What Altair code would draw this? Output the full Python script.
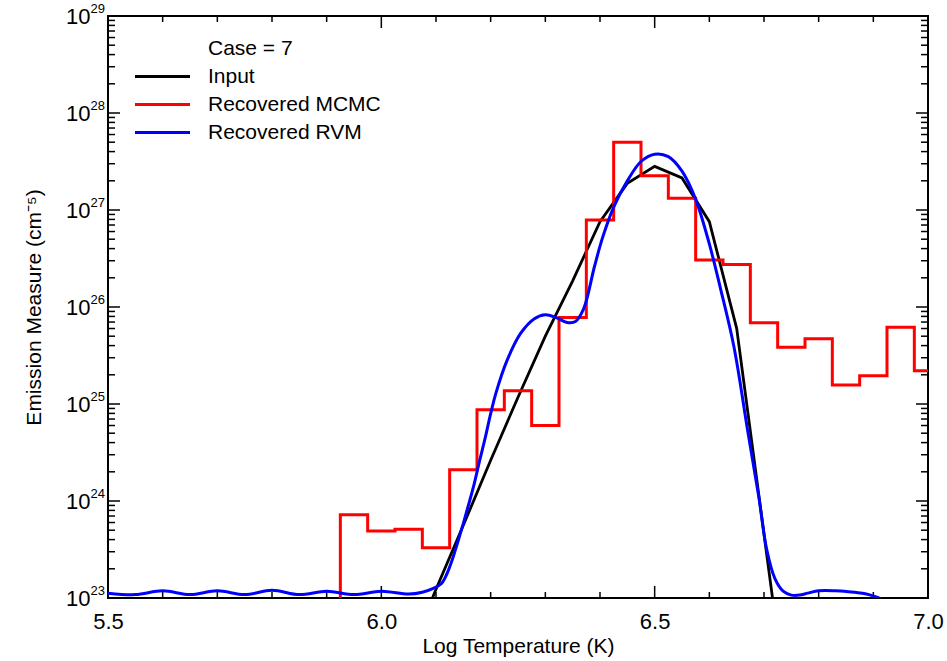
import altair as alt
import pandas as pd

# ---------------- data ----------------
SERIES = ["Case = 7", "Input", "Recovered MCMC", "Recovered RVM"]
SERIES_COLORS = ["transparent", "#000000", "#ff0000", "#0000ff"]

# Input DEM (log T, log EM)
INPUT_LOGT = [6.05, 6.10, 6.15, 6.20, 6.25, 6.30, 6.35, 6.40, 6.45, 6.50,
              6.55, 6.60, 6.65, 6.70, 6.75]
INPUT_LOGEM = [22.40, 23.09, 23.75, 24.42, 25.07, 25.70, 26.27, 26.88, 27.275, 27.45,
               27.33, 26.88, 25.78, 23.66, 21.54]

# Recovered MCMC histogram (bin centres, EM); first bin is below the plotted range
MCMC_BIN_WIDTH = 0.05
MCMC_CENTERS = [5.90, 5.95, 6.00, 6.05, 6.10, 6.15, 6.20, 6.25, 6.30, 6.35, 6.40,
                6.45, 6.50, 6.55, 6.60, 6.65, 6.70, 6.75, 6.80, 6.85, 6.90,
                6.95, 7.00]
MCMC_EM = [1e21, 7.2e23, 4.9e23, 5.1e23, 3.3e23, 2.1e24, 8.7e24, 1.37e25, 6.0e24, 7.8e25, 7.9e26,
           5.0e27, 2.26e27, 1.32e27, 3.05e26, 2.75e26, 6.9e25, 3.85e25, 4.7e25, 1.57e25, 1.95e25,
           6.2e25, 2.2e25]

# Recovered RVM (log T, log EM)
RVM_LOGT = [5.50, 5.55, 5.60, 5.65, 5.70, 5.75, 5.80, 5.85, 5.90, 5.95, 6.00, 6.05,
            6.075, 6.095, 6.11, 6.12, 6.13, 6.14, 6.15, 6.16, 6.17, 6.18, 6.19, 6.20,
            6.21, 6.23, 6.255, 6.28, 6.30, 6.32, 6.34, 6.355, 6.37, 6.39, 6.405, 6.425,
            6.45, 6.475, 6.50, 6.525, 6.55, 6.575, 6.60, 6.62, 6.645, 6.67, 6.69, 6.705,
            6.72, 6.735, 6.75, 6.765, 6.78, 6.80, 6.83, 6.855, 6.88, 6.895, 6.91, 6.925]
RVM_LOGEM = [23.05, 23.035, 23.075, 23.035, 23.075, 23.035, 23.08, 23.035, 23.07, 23.035, 23.07, 23.04,
             23.06, 23.10, 23.15, 23.25, 23.40, 23.58, 23.77, 23.97, 24.18, 24.42, 24.65, 24.90,
             25.12, 25.45, 25.73, 25.88, 25.92, 25.89, 25.84, 25.85, 25.98, 26.42, 26.72, 27.03,
             27.30, 27.50, 27.575, 27.55, 27.40, 27.11, 26.65, 26.20, 25.59, 24.73, 24.06, 23.50,
             23.20, 23.07, 23.03, 23.03, 23.05, 23.075, 23.075, 23.065, 23.05, 23.03, 23.00, 22.97]

# axis ticks / labels
X_DOMAIN = [5.5, 7.0]
Y_DOMAIN = [1e23, 1e29]
X_MAJOR = [5.5, 6.0, 6.5, 7.0]
X_MINOR = [5.6, 5.7, 5.8, 5.9, 6.1, 6.2, 6.3, 6.4, 6.6, 6.7, 6.8, 6.9]
Y_EXPONENTS = [23, 24, 25, 26, 27, 28, 29]
Y_EXP_LABELS = ["23", "24", "25", "26", "27", "28", "29"]
Y_MINOR_MULT = [2, 3, 4, 5, 6, 7, 8, 9]

# ---------------- build tables ----------------
rows = []
for i, (t, e) in enumerate(zip(INPUT_LOGT, INPUT_LOGEM)):
    rows.append({"series": "Input", "t": t, "em": 10 ** e, "order": i})
k = 0
for c, v in zip(MCMC_CENTERS, MCMC_EM):
    for edge in (c - MCMC_BIN_WIDTH / 2, c + MCMC_BIN_WIDTH / 2):
        rows.append({"series": "Recovered MCMC", "t": round(edge, 4), "em": v, "order": k})
        k += 1
for i, (t, e) in enumerate(zip(RVM_LOGT, RVM_LOGEM)):
    rows.append({"series": "Recovered RVM", "t": t, "em": 10 ** e, "order": i})
df = pd.DataFrame(rows)

y_major_vals = [10.0 ** e for e in Y_EXPONENTS]
y_minor_vals = [m * 10.0 ** e for e in Y_EXPONENTS[:-1] for m in Y_MINOR_MULT]
df_xmaj = pd.DataFrame({"t": X_MAJOR})
df_xmin = pd.DataFrame({"t": X_MINOR})
df_ymaj = pd.DataFrame({"em": y_major_vals})
df_ymin = pd.DataFrame({"em": y_minor_vals})
df_yexp = pd.DataFrame({"em": y_major_vals, "lab": Y_EXP_LABELS})

W, H = 820, 582
FONT = "Liberation Sans"
FS = 21
FS_TICK = 22

x_enc = alt.X(
    "t:Q",
    scale=alt.Scale(domain=X_DOMAIN, nice=False, zero=False),
    axis=alt.Axis(values=X_MAJOR, format=".1f", ticks=False, tickSize=0, domain=False, grid=False,
                  labelFontSize=FS_TICK, labelPadding=13, labelFlush=False, labelOverlap=False,
                  labelBaseline="top", labelColor="black",
                  title="Log Temperature (K)", titleFontSize=FS, titleFontWeight="normal",
                  titleColor="black", titleX=W / 2, titleY=54, titleAlign="center",
                  titleBaseline="alphabetic"),
)
y_enc = alt.Y(
    "em:Q",
    scale=alt.Scale(type="log", domain=Y_DOMAIN, nice=False),
    axis=alt.Axis(values=y_major_vals, labelExpr="'10'", ticks=False, tickSize=0, domain=False,
                  grid=False, labelFontSize=FS_TICK, labelPadding=18, labelAlign="right",
                  labelBaseline="middle", labelOverlap=False, labelFlush=False, labelColor="black",
                  title="Emission Measure (cm⁻⁵)", titleFontSize=FS, titleFontWeight="normal",
                  titleColor="black", titleAngle=-90, titleX=-74, titleY=H / 2,
                  titleAlign="center", titleBaseline="middle"),
)
color_enc = alt.Color(
    "series:N",
    scale=alt.Scale(domain=SERIES, range=SERIES_COLORS),
    legend=alt.Legend(title=None, orient="none", legendX=42, legendY=20, padding=0,
                      symbolType="M-2.5,0H2.5", symbolSize=484, symbolStrokeWidth=3,
                      labelFontSize=FS, labelFont=FONT, labelColor="black", labelOffset=33,
                      rowPadding=5, labelLimit=400),
)

base = alt.Chart(df)
input_line = base.transform_filter(alt.datum.series == "Input").mark_line(
    clip=True, strokeWidth=2.8).encode(x=x_enc, y=y_enc, color=color_enc, order="order:Q")
mcmc_line = base.transform_filter(alt.datum.series == "Recovered MCMC").mark_line(
    clip=True, strokeWidth=3).encode(x=x_enc, y=y_enc, color=color_enc, order="order:Q")
rvm_line = base.transform_filter(alt.datum.series == "Recovered RVM").mark_line(
    clip=True, strokeWidth=3, interpolate="catmull-rom").encode(
    x=x_enc, y=y_enc, color=color_enc, order="order:Q")

TICK = dict(color="black", strokeWidth=1.5)
xmaj_b = alt.Chart(df_xmaj).mark_rule(**TICK).encode(x=x_enc, y=alt.value(H), y2=alt.value(H - 12))
xmaj_t = alt.Chart(df_xmaj).mark_rule(**TICK).encode(x=x_enc, y=alt.value(0), y2=alt.value(12))
xmin_b = alt.Chart(df_xmin).mark_rule(**TICK).encode(x=x_enc, y=alt.value(H), y2=alt.value(H - 6))
xmin_t = alt.Chart(df_xmin).mark_rule(**TICK).encode(x=x_enc, y=alt.value(0), y2=alt.value(6))
ymaj_l = alt.Chart(df_ymaj).mark_rule(**TICK).encode(y=y_enc, x=alt.value(0), x2=alt.value(12))
ymaj_r = alt.Chart(df_ymaj).mark_rule(**TICK).encode(y=y_enc, x=alt.value(W - 12), x2=alt.value(W))
ymin_l = alt.Chart(df_ymin).mark_rule(**TICK).encode(y=y_enc, x=alt.value(0), x2=alt.value(7))
ymin_r = alt.Chart(df_ymin).mark_rule(**TICK).encode(y=y_enc, x=alt.value(W - 7), x2=alt.value(W))

yexp = alt.Chart(df_yexp).mark_text(align="left", baseline="alphabetic", dy=-3, fontSize=13,
                                     font=FONT, color="black").encode(
    y=y_enc, x=alt.value(-17.5), text="lab:N")

chart = alt.layer(
    xmaj_b, xmaj_t, xmin_b, xmin_t, ymaj_l, ymaj_r, ymin_l, ymin_r,
    input_line, mcmc_line, rvm_line, yexp,
).properties(
    width=W, height=H,
    autosize=alt.AutoSizeParams(type="none"),
    padding={"left": 108, "top": 16, "right": 19, "bottom": 63},
    background="white",
).configure(font=FONT).configure_view(stroke="black", strokeWidth=2)

chart.save("out.html", embed_options={"renderer": "svg", "actions": False})
